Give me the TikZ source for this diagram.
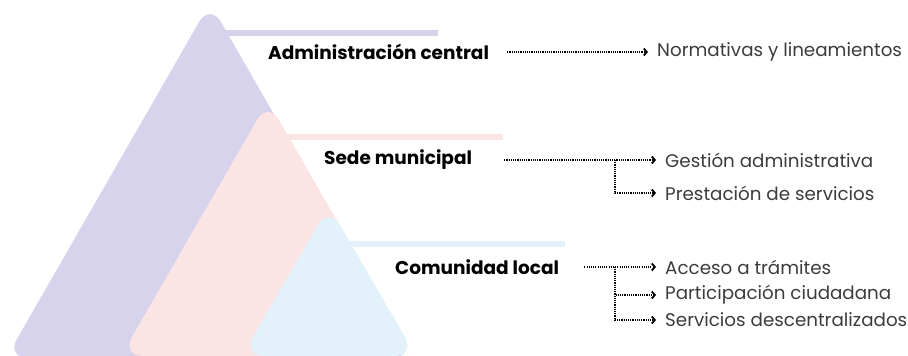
\documentclass[tikz,border=0pt]{standalone}
\usepackage{fontspec}
\setmainfont{Poppins}
\usetikzlibrary{arrows.meta,positioning}

\definecolor{lila}{RGB}{216,211,236}
\definecolor{rosa}{RGB}{251,228,228}
\definecolor{celeste}{RGB}{227,241,251}
\definecolor{texto}{RGB}{60,60,60}

\begin{document}
\begin{tikzpicture}[x=1pt,y=-1pt,
	nivel/.style={font=\fontsize{18.5}{22}\selectfont\bfseries, anchor=west, inner sep=0pt},
	item/.style={font=\fontsize{18.3}{22}\selectfont, text=texto, anchor=west, inner xsep=9pt, inner ysep=0pt},
	conn/.style={line width=1.1pt, dash pattern=on 1.1pt off 1.1pt, -{Straight Barb[length=3pt,width=7pt,line width=1.8pt]}},
	barra/.style={line width=6pt}]
	\useasboundingbox (0,0) rectangle (908,356);

	%Bars and the three mountains
	\draw[barra, lila] (220,33) -- (438,33);
	\fill[lila, rounded corners=22pt] (6,358) -- (210,3) -- (414,358) -- cycle;
	\draw[barra, rosa] (280,137) -- (503,137);
	\fill[rosa, rounded corners=22pt] (121,356) -- (268,101) -- (415,356) -- cycle;
	\draw[barra, celeste] (340,244) -- (565,244);
	\fill[celeste, rounded corners=22pt] (242,356) -- (329,206) -- (416,356) -- cycle;

	%Level labels
	\node[nivel] (adm) at (268,52) {Administración central};
	\node[nivel] (sede) at (324,160) {Sede municipal};
	\node[nivel] (com) at (395,267) {Comunidad local};

	%Items
	\node[item] (norm) at (648,52) {Normativas y lineamientos};
	\node[item] (gest) at (656,160) {Gestión administrativa};
	\node[item] (prest) at (656,193) {Prestación de servicios};
	\node[item] (acc) at (656,267) {Acceso a trámites};
	\node[item] (part) at (656,295) {Participación ciudadana};
	\node[item] (serv) at (656,320) {Servicios descentralizados};

	%Connectors
	\draw[conn] ([xshift=18pt]adm.east) -- (norm.west);

	\coordinate (sb) at ([xshift=-41pt]gest.west);
	\draw[conn] ([xshift=32pt]sede.east) -- (gest.west);
	\draw[conn] (sb) |- (prest.west);

	\coordinate (cb) at ([xshift=-41pt]acc.west);
	\draw[conn] ([xshift=25pt]com.east) -- (acc.west);
	\draw[conn] (cb) |- (part.west);
	\draw[conn] (cb) |- (serv.west);
\end{tikzpicture}
\end{document}
